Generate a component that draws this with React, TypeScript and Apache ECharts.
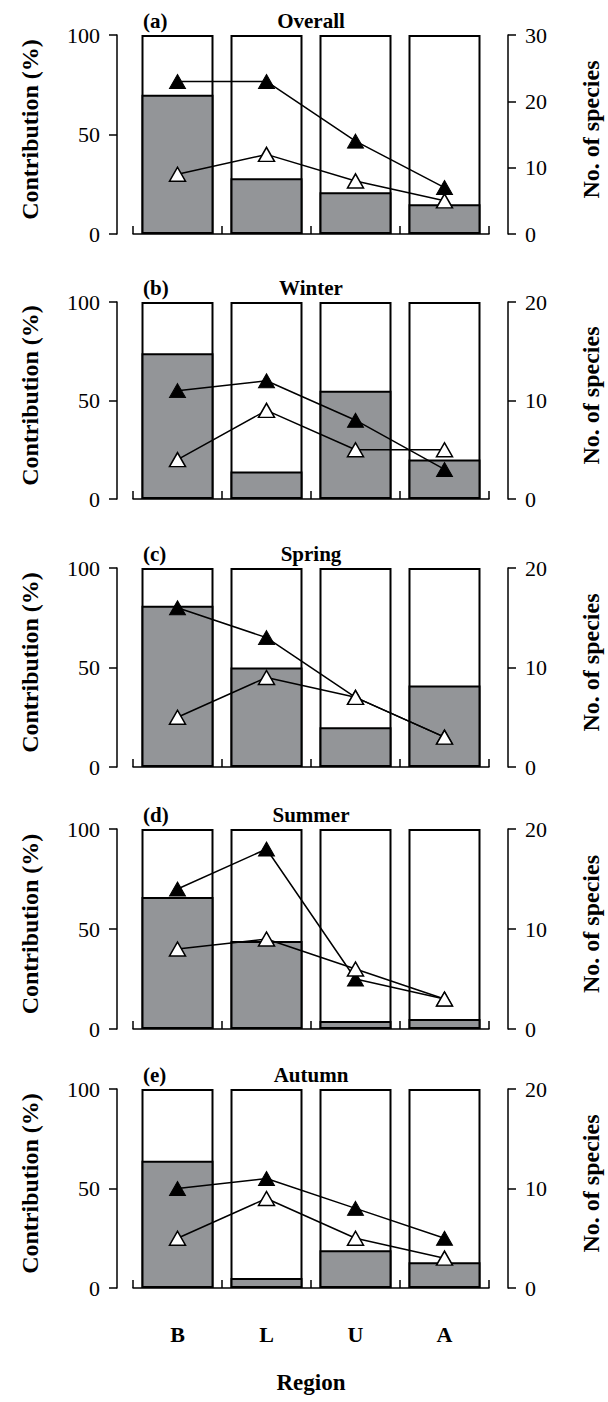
import React, { useEffect, useRef } from "react";
import * as echarts from "echarts";

const categories = ["B", "L", "U", "A"];
const panelLabels = ["(a)", "(b)", "(c)", "(d)", "(e)"];
const seasons = ["Overall", "Winter", "Spring", "Summer", "Autumn"];
const totalPct = [100, 100, 100, 100];

// Contribution (%) – grey part of each bar
const overallContribution = [70, 28, 21, 15];
const winterContribution = [74, 14, 55, 20];
const springContribution = [81, 50, 20, 41];
const summerContribution = [66, 44, 4, 5];
const autumnContribution = [64, 5, 19, 13];

// No. of species – filled triangles
const overallFilled = [23, 23, 14, 7];
const winterFilled = [11, 12, 8, 3];
const springFilled = [16, 13, 7, 3];
const summerFilled = [14, 18, 5, 3];
const autumnFilled = [10, 11, 8, 5];

// No. of species – open triangles
const overallOpen = [9, 12, 8, 5];
const winterOpen = [4, 9, 5, 5];
const springOpen = [5, 9, 7, 3];
const summerOpen = [8, 9, 6, 3];
const autumnOpen = [5, 9, 5, 3];

const leftTicks = { min: 0, max: 100, interval: 50 };
const rightMax = [30, 20, 20, 20, 20];

const contributions = [overallContribution, winterContribution, springContribution, summerContribution, autumnContribution];
const filled = [overallFilled, winterFilled, springFilled, summerFilled, autumnFilled];
const open = [overallOpen, winterOpen, springOpen, summerOpen, autumnOpen];

const FONT = "'Liberation Serif', 'Times New Roman', serif";
const panelTops = [35, 302, 568, 829, 1089];
const panelHeights = [199, 197, 199, 200, 199];
const xOffsets = [11, 13, 10, 10, 16];
const GRID_LEFT = 133;
const GRID_RIGHT = 119;
const GREY = "#939598";

export default function App() {
  const ref = useRef<HTMLDivElement>(null);
  useEffect(() => {
    document.body.style.margin = "0";
    if (!ref.current) return;
    const chart = echarts.init(ref.current, null, { renderer: "svg" });
    const axisLine = { show: true, lineStyle: { color: "#000", width: 1.5 } };
    const grids: any[] = [];
    const xAxes: any[] = [];
    const yAxes: any[] = [];
    const series: any[] = [];
    const graphics: any[] = [];
    for (let i = 0; i < 5; i++) {
      const top = panelTops[i];
      const h = panelHeights[i];
      grids.push({ left: GRID_LEFT, right: GRID_RIGHT, top, height: h });
      xAxes.push({
        type: "category",
        gridIndex: i,
        data: categories,
        position: "bottom",
        offset: xOffsets[i],
        boundaryGap: true,
        axisLine,
        axisTick: { show: true, inside: true, length: 8, lineStyle: { color: "#000", width: 1.5 } },
        axisLabel: {
          show: i === 4,
          margin: 19,
          fontFamily: FONT,
          fontWeight: "bold",
          fontSize: 22,
          color: "#000",
        },
        splitLine: { show: false },
      });
      yAxes.push({
        type: "value",
        gridIndex: i,
        position: "left",
        offset: 16,
        min: leftTicks.min,
        max: leftTicks.max,
        interval: leftTicks.interval,
        axisLine,
        axisTick: { show: true, inside: false, length: 8, lineStyle: { color: "#000", width: 1.5 } },
        axisLabel: { margin: 17, fontFamily: FONT, fontSize: 22, color: "#000" },
        splitLine: { show: false },
      });
      yAxes.push({
        type: "value",
        gridIndex: i,
        position: "right",
        offset: 19,
        min: 0,
        max: rightMax[i],
        interval: 10,
        axisLine,
        axisTick: { show: true, inside: false, length: 8, lineStyle: { color: "#000", width: 1.5 } },
        axisLabel: { margin: 17, fontFamily: FONT, fontSize: 22, color: "#000" },
        splitLine: { show: false },
      });
      series.push({
        type: "bar",
        xAxisIndex: i,
        yAxisIndex: 2 * i,
        data: totalPct,
        barWidth: 72,
        barGap: "-100%",
        silent: true,
        z: 1,
        itemStyle: { color: "#fff", borderColor: "#000", borderWidth: 2 },
      });
      series.push({
        type: "bar",
        xAxisIndex: i,
        yAxisIndex: 2 * i,
        data: contributions[i],
        barWidth: 72,
        barGap: "-100%",
        z: 2,
        itemStyle: { color: GREY, borderColor: "#000", borderWidth: 2 },
      });
      series.push({
        type: "line",
        xAxisIndex: i,
        yAxisIndex: 2 * i + 1,
        data: filled[i],
        symbol: "triangle",
        symbolSize: [16, 14],
        z: 3,
        lineStyle: { color: "#000", width: 1.5 },
        itemStyle: { color: "#000", borderColor: "#000", borderWidth: 1 },
      });
      series.push({
        type: "line",
        xAxisIndex: i,
        yAxisIndex: 2 * i + 1,
        data: open[i],
        symbol: "triangle",
        symbolSize: [16, 14],
        z: 4,
        lineStyle: { color: "#000", width: 1.5 },
        itemStyle: { color: "#fff", borderColor: "#000", borderWidth: 1.5 },
      });
      graphics.push({
        type: "text",
        x: 143,
        y: top - 14,
        style: {
          text: panelLabels[i],
          font: `bold 21px ${FONT}`,
          fill: "#000",
          textAlign: "left",
          textVerticalAlign: "middle",
        },
      });
      graphics.push({
        type: "text",
        x: 311,
        y: top - 14,
        style: {
          text: seasons[i],
          font: `bold 21px ${FONT}`,
          fill: "#000",
          textAlign: "center",
          textVerticalAlign: "middle",
        },
      });
      graphics.push({
        type: "text",
        x: 30,
        y: top + h / 2 - 5,
        rotation: Math.PI / 2,
        style: {
          text: "Contribution (%)",
          font: `bold 24px ${FONT}`,
          fill: "#000",
          textAlign: "center",
          textVerticalAlign: "middle",
        },
      });
      graphics.push({
        type: "text",
        x: 591,
        y: top + h / 2 - 5,
        rotation: Math.PI / 2,
        style: {
          text: "No. of species",
          font: `bold 24px ${FONT}`,
          fill: "#000",
          textAlign: "center",
          textVerticalAlign: "middle",
        },
      });
    }
    graphics.push({
      type: "text",
      x: 311,
      y: 1382,
      style: {
        text: "Region",
        font: `bold 23px ${FONT}`,
        fill: "#000",
        textAlign: "center",
        textVerticalAlign: "middle",
      },
    });
    chart.setOption({
      animation: false,
      backgroundColor: "#fff",
      grid: grids,
      xAxis: xAxes,
      yAxis: yAxes,
      series,
      graphic: graphics,
    });
    return () => chart.dispose();
  }, []);
  return <div ref={ref} style={{ width: 608, height: 1402 }} />;
}
